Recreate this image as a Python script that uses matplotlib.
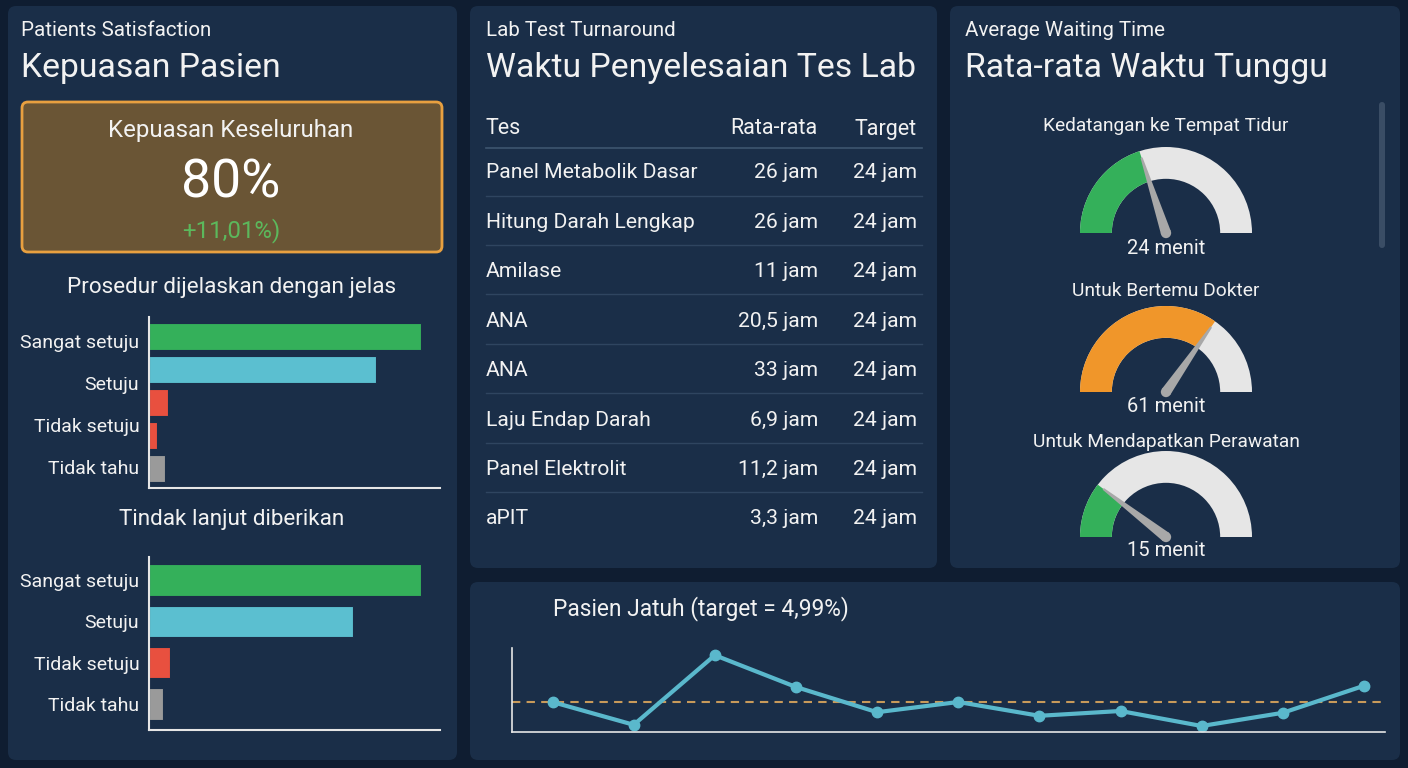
import numpy as np
import matplotlib
matplotlib.use("Agg")
import matplotlib.pyplot as plt
from matplotlib.patches import FancyBboxPatch, Wedge, Polygon, Circle

plt.rcParams['font.family'] = ['Roboto', 'DejaVu Sans']

W, H = 1408, 768

# ---- data ----
kpi_title = "Kepuasan Keseluruhan"
kpi_value = "80%"
kpi_change = "+11,01%)"

bar1_title = "Prosedur dijelaskan dengan jelas"
bar1_values = [93.5, 78.0, 6.5, 2.7, 5.5]
bar1_colors = ['#34b05a', '#5bbfd0', '#e8503f', '#e8503f', '#9a9a9a']
bar1_labels = ["Sangat setuju", "Setuju", "Tidak setuju", "Tidak tahu"]

bar2_title = "Tindak lanjut diberikan"
bar2_values = [93.5, 70.0, 7.2, 4.8]
bar2_colors = ['#34b05a', '#5bbfd0', '#e8503f', '#9a9a9a']
bar2_labels = ["Sangat setuju", "Setuju", "Tidak setuju", "Tidak tahu"]

table_header = ["Tes", "Rata-rata", "Target"]
lab_tests = ["Panel Metabolik Dasar", "Hitung Darah Lengkap", "Amilase", "ANA",
             "ANA", "Laju Endap Darah", "Panel Elektrolit", "aPIT"]
lab_avg = ["26 jam", "26 jam", "11 jam", "20,5 jam", "33 jam", "6,9 jam", "11,2 jam", "3,3 jam"]
lab_target = ["24 jam"] * 8

gauge_titles = ["Kedatangan ke Tempat Tidur", "Untuk Bertemu Dokter", "Untuk Mendapatkan Perawatan"]
gauge_values = [24, 61, 15]
gauge_max = [60, 88, 72]
gauge_colors = ['#34b05a', '#f0962a', '#34b05a']

falls_title = "Pasien Jatuh (target = 4,99%)"
falls_target = 4.99
falls_values = [4.99, 1.2, 12.8, 7.5, 3.3, 5.0, 2.7, 3.5, 1.0, 3.2, 7.7]

# ---- helpers ----
def px_rect(x0, y0, x1, y1):
    return [x0 / W, 1 - y1 / H, (x1 - x0) / W, (y1 - y0) / H]

BG = '#0f1d31'
PANEL = '#1a2e48'
TXT = '#f2f2f2'

fig = plt.figure(figsize=(W / 100, H / 100), dpi=100, facecolor=BG)
bg = fig.add_axes([0, 0, 1, 1])
bg.set_xlim(0, W)
bg.set_ylim(H, 0)
bg.axis('off')

def txt(x, y, s, size, ha='left', color=TXT):
    # small offset: va='center' sits a bit high compared with the reference
    bg.text(x, y + 2, s, color=color, fontsize=size, ha=ha, va='center')

def panel(x0, y0, x1, y1):
    bg.add_patch(FancyBboxPatch((x0, y0), x1 - x0, y1 - y0,
                                boxstyle="round,pad=0,rounding_size=8",
                                fc=PANEL, ec='none'))

panel(8, 6, 457, 760)
panel(470, 6, 937, 568)
panel(950, 6, 1400, 568)
panel(470, 582, 1400, 760)

def header(x, sub, main):
    txt(x, 29, sub, 14.8)
    txt(x, 66, main, 24.3)

header(21, "Patients Satisfaction", "Kepuasan Pasien")
header(486, "Lab Test Turnaround", "Waktu Penyelesaian Tes Lab")
header(965, "Average Waiting Time", "Rata-rata Waktu Tunggu")

# KPI box
bg.add_patch(FancyBboxPatch((22, 102), 420, 150,
                            boxstyle="round,pad=0,rounding_size=6",
                            fc='#6a5535', ec='#e8a040', lw=2))
txt(231, 128, kpi_title, 17.3, ha='center')
txt(231, 181, kpi_value, 38.5, ha='center', color='white')
txt(231, 229, kpi_change, 17.3, ha='center', color='#5cb85c')

# bar charts
def hbar(rect, vals, colors, height, ylim, tick_pos, labels, title, title_y):
    txt(232, title_y, title, 16.2, ha='center')
    ax = fig.add_axes(px_rect(*rect))
    ax.set_facecolor('none')
    pos = np.arange(len(vals))
    ax.barh(pos, vals, height=height, color=colors, edgecolor='#1a2e48', lw=0.8)
    ax.set_xlim(0, 100)
    ax.set_ylim(*ylim)
    ax.set_yticks(tick_pos)
    ax.set_yticklabels(labels, color=TXT, fontsize=14)
    ax.set_xticks([])
    ax.tick_params(axis='y', length=0, pad=7)
    for s in ['top', 'right']:
        ax.spines[s].set_visible(False)
    for s in ['left', 'bottom']:
        ax.spines[s].set_color('#e6e6e6')
        ax.spines[s].set_linewidth(1.5)

hbar((149, 317, 440, 488), bar1_values, bar1_colors, 0.82, (4.6, -0.58),
     [0.15, 1.42, 2.7, 3.97], bar1_labels, bar1_title, 285)
hbar((149, 557, 440, 730), bar2_values, bar2_colors, 0.76, (3.63, -0.56),
     np.arange(len(bar2_values)), bar2_labels, bar2_title, 518)

# table
txt(486, 127, table_header[0], 15.5)
txt(818, 127, table_header[1], 15.5, ha='right')
txt(917, 127, table_header[2], 15.5, ha='right')
bg.plot([486, 922], [148, 148], color='#3e556f', lw=1.2)
row_y = 171 + np.arange(len(lab_tests)) * 49.4
for i, (t, a, g) in enumerate(zip(lab_tests, lab_avg, lab_target)):
    y = row_y[i]
    txt(486, y, t, 15.2)
    txt(818, y, a, 15.2, ha='right')
    txt(917, y, g, 15.2, ha='right')
    if i < len(lab_tests) - 1:
        bg.plot([486, 922], [y + 24.5, y + 24.5], color='#2f4560', lw=1)

# scrollbar
bg.add_patch(FancyBboxPatch((1379, 102), 6, 146,
                            boxstyle="round,pad=0,rounding_size=3",
                            fc='#3a4d65', ec='none'))

# gauges
gauge_base = [233, 392, 537]
title_y = [124, 289, 440]
value_y = [247, 404, 549]
R = 86
for i in range(3):
    txt(1166, title_y[i], gauge_titles[i], 13.8, ha='center')
    txt(1166, value_y[i], f"{gauge_values[i]} menit", 14.5, ha='center')
    base = gauge_base[i]
    ax = fig.add_axes(px_rect(1166 - 1.1 * R, base - 1.1 * R, 1166 + 1.1 * R, base + 0.1 * R))
    ax.set_xlim(-1.1, 1.1)
    ax.set_ylim(-0.1, 1.1)
    ax.axis('off')
    ang = 180 - 180 * gauge_values[i] / gauge_max[i]
    ax.add_patch(Wedge((0, 0), 1, 0, 180, width=0.37, fc='#e6e6e6', ec='none'))
    ax.add_patch(Wedge((0, 0), 1, ang, 180, width=0.37, fc=gauge_colors[i], ec='none'))
    a = np.radians(ang)
    tip = np.array([np.cos(a), np.sin(a)]) * 0.92
    perp = np.array([-np.sin(a), np.cos(a)]) * 0.06
    ax.add_patch(Polygon([perp, tip + perp * 0.2, tip - perp * 0.2, -perp],
                         closed=True, fc='#a8a8a8', ec='none'))
    ax.add_patch(Circle((0, 0), 0.06, fc='#a8a8a8', ec='none'))

# falls line chart
txt(553, 607, falls_title, 16.4)
ax = fig.add_axes(px_rect(512, 648, 1385, 732))
ax.set_facecolor('none')
x = np.arange(len(falls_values))
ax.axhline(falls_target, color='#c89a5a', lw=1.5, ls=(0, (4, 3)))
ax.plot(x, falls_values, color='#5ab8cc', lw=3, marker='o', ms=7.5, clip_on=False)
ax.set_xlim(-0.5, 10.26)
ax.set_ylim(0, 14)
ax.set_xticks([])
ax.set_yticks([])
for s in ['top', 'right']:
    ax.spines[s].set_visible(False)
for s in ['left', 'bottom']:
    ax.spines[s].set_color('#e6e6e6')
    ax.spines[s].set_linewidth(1.2)

fig.savefig("out.png", dpi=100, facecolor=BG)
